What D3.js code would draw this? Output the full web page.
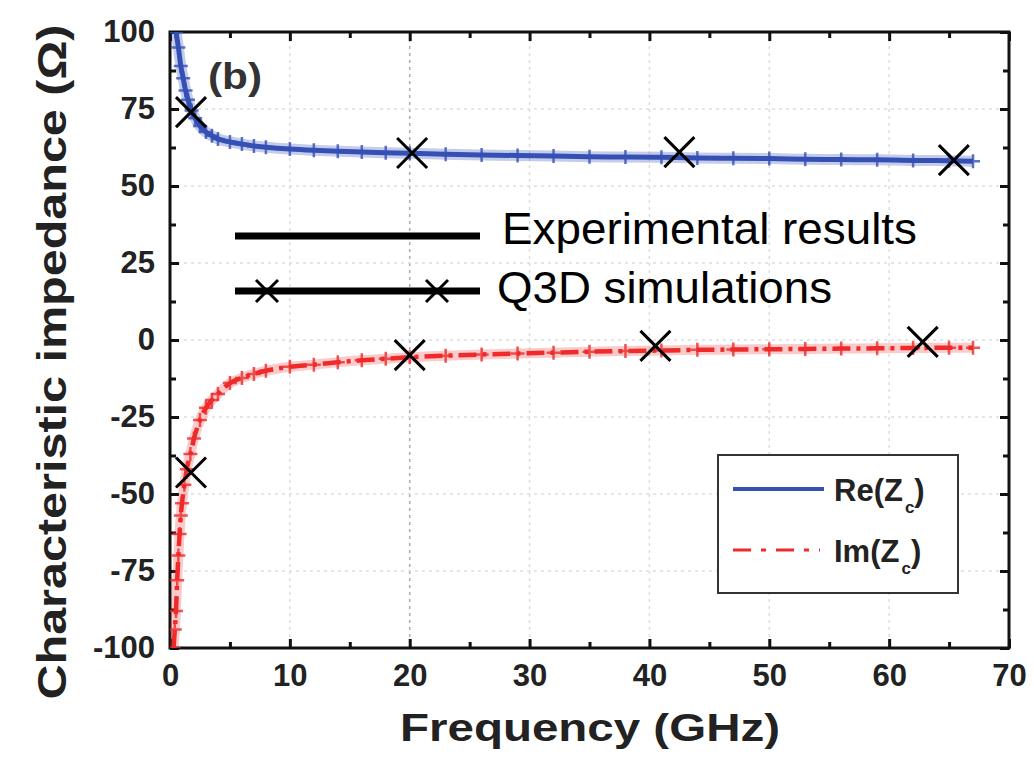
<!DOCTYPE html>
<html>
<head>
<meta charset="utf-8">
<script src="https://cdn.jsdelivr.net/npm/d3@7"></script>
<style>
  body { margin: 0; background: #fff; }
  text { font-family: "Liberation Sans", Arial, sans-serif; }
</style>
</head>
<body>
<script>
const freqRe = [0.5,0.7,0.9,1.1,1.3,1.5,1.8,2.1,2.5,3,3.5,4,5,6,7,8,10,12,14,16,18,20,23,26,29,32,35,38,41,44,47,50,53,56,59,62,65,67];
const reZc   = [100,95,89,85,81,78,74.5,72,69.5,67.5,66.3,65.3,64.3,63.6,63,62.6,62,61.6,61.3,61,60.8,60.6,60.3,60.1,59.9,59.7,59.5,59.4,59.3,59.1,59,58.9,58.7,58.6,58.5,58.3,58.2,58];
const freqIm = [0.3,0.4,0.5,0.6,0.7,0.8,0.9,1.0,1.2,1.4,1.7,2.0,2.5,3,3.5,4,5,6,7,8,10,12,14,16,18,20,23,26,29,32,35,38,41,44,47,50,53,56,59,62,65,67];
const imZc   = [-100,-94,-88,-78,-70,-63,-57,-53,-47,-42,-37,-32,-26,-22,-19.5,-17.5,-14,-12.3,-11,-10,-8.7,-8,-7.2,-6.6,-6.1,-5.6,-5.1,-4.7,-4.4,-4.1,-3.8,-3.6,-3.4,-3.2,-3.1,-3,-2.9,-2.8,-2.7,-2.6,-2.5,-2.5];

// Q3D simulation points
const simReF = [1.75, 20.2, 42.5, 65.4];
const simRe  = [74, 60.7, 61, 58.4];
const simImF = [1.75, 20, 40.5, 62.8];
const simIm  = [-43, -4.9, -1.9, -0.6];

const xTicks = [0,10,20,30,40,50,60,70];
const yTicks = [100,75,50,25,0,-25,-50,-75,-100];

const width = 1034, height = 759;
const margin = {left: 170, right: 25, top: 32, bottom: 111};

const svg = d3.select('body').append('svg').attr('width', width).attr('height', height);

const x = d3.scaleLinear().domain([0, 70]).range([margin.left, width - margin.right]);
const y = d3.scaleLinear().domain([-100, 100]).range([height - margin.bottom, margin.top]);

svg.append('clipPath').attr('id', 'plot').append('rect')
  .attr('x', x(0)).attr('y', y(100)).attr('width', x(70) - x(0)).attr('height', y(-100) - y(100));

// grid
const grid = svg.append('g');
grid.selectAll('.vg').data(xTicks.slice(1, -1)).enter().append('line')
  .attr('x1', d => x(d)).attr('x2', d => x(d)).attr('y1', y(100)).attr('y2', y(-100))
  .attr('stroke', d => d === 20 ? '#aaa' : '#ddd').attr('stroke-width', 1.5).attr('stroke-dasharray', '3,4');
grid.selectAll('.hg').data(yTicks.slice(1, -1)).enter().append('line')
  .attr('x1', x(0)).attr('x2', x(70)).attr('y1', d => y(d)).attr('y2', d => y(d))
  .attr('stroke', '#ddd').attr('stroke-width', 1.5).attr('stroke-dasharray', '3,4');

// axes (ticks inside)
const xMinor = d3.range(5, 70, 10);
const yMinor = d3.range(-87.5, 100, 25);
const tickLen = 9, minorLen = 6;
const fmt = d => String(d);

svg.append('g').attr('transform', `translate(0,${y(-100)})`)
  .call(d3.axisBottom(x).tickValues(xTicks).tickFormat(fmt).tickSizeInner(-tickLen).tickSizeOuter(0).tickPadding(16));
svg.append('g').attr('transform', `translate(0,${y(100)})`)
  .call(d3.axisTop(x).tickValues(xTicks).tickSizeInner(-tickLen).tickSizeOuter(0).tickFormat(''));
svg.append('g').attr('transform', `translate(${x(0)},0)`)
  .call(d3.axisLeft(y).tickValues(yTicks).tickFormat(fmt).tickSizeInner(-tickLen).tickSizeOuter(0).tickPadding(15));
svg.append('g').attr('transform', `translate(${x(70)},0)`)
  .call(d3.axisRight(y).tickValues(yTicks).tickSizeInner(-tickLen).tickSizeOuter(0).tickFormat(''));
svg.append('g').attr('transform', `translate(0,${y(-100)})`)
  .call(d3.axisBottom(x).tickValues(xMinor).tickSizeInner(-minorLen).tickSizeOuter(0).tickFormat(''));
svg.append('g').attr('transform', `translate(0,${y(100)})`)
  .call(d3.axisTop(x).tickValues(xMinor).tickSizeInner(-minorLen).tickSizeOuter(0).tickFormat(''));
svg.append('g').attr('transform', `translate(${x(0)},0)`)
  .call(d3.axisLeft(y).tickValues(yMinor).tickSizeInner(-minorLen).tickSizeOuter(0).tickFormat(''));
svg.append('g').attr('transform', `translate(${x(70)},0)`)
  .call(d3.axisRight(y).tickValues(yMinor).tickSizeInner(-minorLen).tickSizeOuter(0).tickFormat(''));

svg.selectAll('.domain').remove();
svg.selectAll('.tick line').attr('stroke', '#111').attr('stroke-width', 3);
svg.selectAll('.tick text').attr('font-size', 31).attr('font-weight', 'bold').attr('fill', '#222');

svg.append('rect').attr('x', x(0)).attr('y', y(100)).attr('width', x(70) - x(0)).attr('height', y(-100) - y(100))
  .attr('fill', 'none').attr('stroke', '#111').attr('stroke-width', 3);

// experimental curves
const plot = svg.append('g').attr('clip-path', 'url(#plot)');
const lineRe = d3.line().x((d, i) => x(freqRe[i])).y(d => y(d)).curve(d3.curveMonotoneX);
const lineIm = d3.line().x((d, i) => x(freqIm[i])).y(d => y(d)).curve(d3.curveMonotoneX);

const plus = s => `M${-s},0H${s}M0,${-s}V${s}`;

plot.append('path').datum(reZc).attr('d', lineRe).attr('fill', 'none')
  .attr('stroke', '#3b57b8').attr('stroke-width', 11).attr('stroke-opacity', 0.3);
plot.append('path').datum(reZc).attr('d', lineRe).attr('fill', 'none')
  .attr('stroke', '#3550b5').attr('stroke-width', 5);
plot.selectAll('.pre').data(reZc).enter().append('path')
  .attr('transform', (d, i) => `translate(${x(freqRe[i])},${y(d)})`)
  .attr('d', plus(7)).attr('stroke', '#3550b5').attr('stroke-width', 2.5).attr('opacity', 0.8);

plot.append('path').datum(imZc).attr('d', lineIm).attr('fill', 'none')
  .attr('stroke', '#f03030').attr('stroke-width', 10).attr('stroke-opacity', 0.25);
plot.append('path').datum(imZc).attr('d', lineIm).attr('fill', 'none')
  .attr('stroke', '#ee2a2a').attr('stroke-width', 4.5).attr('stroke-dasharray', '18,6,4,6');
plot.selectAll('.pim').data(imZc).enter().append('path')
  .attr('transform', (d, i) => `translate(${x(freqIm[i])},${y(d)})`)
  .attr('d', plus(7)).attr('stroke', '#ee2a2a').attr('stroke-width', 2.5).attr('opacity', 0.8);

// Q3D crosses
const cross = s => `M${-s},${-s}L${s},${s}M${-s},${s}L${s},${-s}`;
svg.selectAll('.sre').data(simRe).enter().append('path')
  .attr('transform', (d, i) => `translate(${x(simReF[i])},${y(d)})`)
  .attr('d', cross(15)).attr('stroke', '#000').attr('stroke-width', 3).attr('fill', 'none');
svg.selectAll('.sim').data(simIm).enter().append('path')
  .attr('transform', (d, i) => `translate(${x(simImF[i])},${y(d)})`)
  .attr('d', cross(15)).attr('stroke', '#000').attr('stroke-width', 3).attr('fill', 'none');

// panel label
svg.append('text').attr('x', 208).attr('y', 89).attr('font-size', 36).attr('font-weight', 'bold')
  .attr('fill', '#333').attr('textLength', 54).attr('lengthAdjust', 'spacingAndGlyphs').text('(b)');

// annotation legend
svg.append('line').attr('x1', 235).attr('x2', 480).attr('y1', 236).attr('y2', 236)
  .attr('stroke', '#000').attr('stroke-width', 7);
svg.append('text').attr('x', 502).attr('y', 244).attr('font-size', 45).attr('fill', '#000')
  .attr('textLength', 415).attr('lengthAdjust', 'spacingAndGlyphs').text('Experimental results');
svg.append('line').attr('x1', 235).attr('x2', 480).attr('y1', 291).attr('y2', 291)
  .attr('stroke', '#000').attr('stroke-width', 7);
svg.selectAll('.lx').data([267, 437]).enter().append('path')
  .attr('transform', d => `translate(${d},291)`)
  .attr('d', cross(11)).attr('stroke', '#000').attr('stroke-width', 3);
svg.append('text').attr('x', 497).attr('y', 303).attr('font-size', 45).attr('fill', '#000')
  .attr('textLength', 335).attr('lengthAdjust', 'spacingAndGlyphs').text('Q3D simulations');

// series legend box
const lg = svg.append('g');
lg.append('rect').attr('x', 718).attr('y', 455).attr('width', 240).attr('height', 138)
  .attr('fill', '#fff').attr('stroke', '#333').attr('stroke-width', 2);
lg.append('line').attr('x1', 733).attr('x2', 824).attr('y1', 489).attr('y2', 489)
  .attr('stroke', '#3550b5').attr('stroke-width', 4);
lg.append('line').attr('x1', 733).attr('x2', 820).attr('y1', 550).attr('y2', 550)
  .attr('stroke', '#ee2a2a').attr('stroke-width', 3).attr('stroke-dasharray', '18,10,5,10');
const labels = [['Re(Z', 501], ['Im(Z', 562]];
labels.forEach(([t, yy]) => {
  const tx = lg.append('text').attr('x', 834).attr('y', yy).attr('font-size', 31).attr('font-weight', 'bold').attr('fill', '#222');
  tx.append('tspan').text(t);
  tx.append('tspan').attr('font-size', 17).attr('dy', 12).attr('dx', 2).text('c');
  tx.append('tspan').attr('dy', -12).text(')');
});

// axis titles
svg.append('text').attr('x', 590).attr('y', 741).attr('text-anchor', 'middle')
  .attr('font-size', 38).attr('font-weight', 'bold').attr('fill', '#222')
  .attr('textLength', 380).attr('lengthAdjust', 'spacingAndGlyphs').text('Frequency (GHz)');
svg.append('text').attr('transform', `translate(66,362) rotate(-90)`).attr('text-anchor', 'middle')
  .attr('font-size', 40).attr('font-weight', 'bold').attr('fill', '#222')
  .attr('textLength', 675).attr('lengthAdjust', 'spacingAndGlyphs').text('Characteristic impedance (Ω)');
</script>
</body>
</html>
